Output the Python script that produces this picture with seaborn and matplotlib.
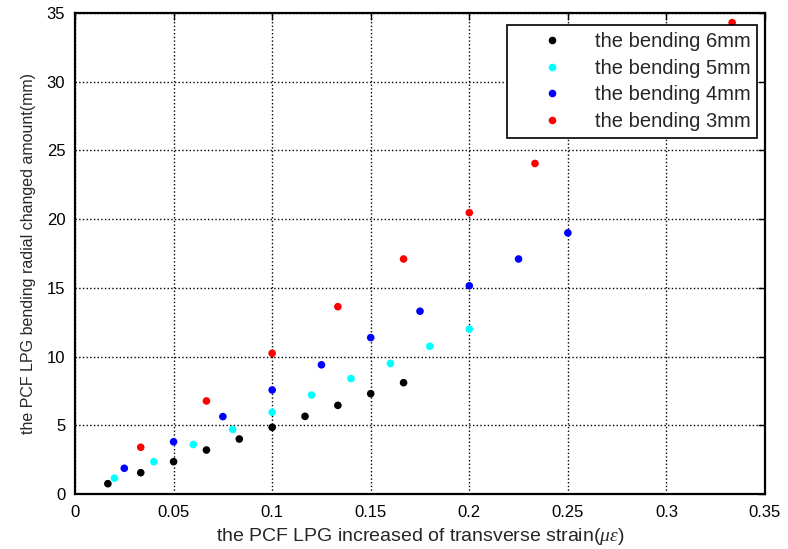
import numpy as np
import pandas as pd
import matplotlib
matplotlib.use('Agg')
import matplotlib.pyplot as plt
import seaborn as sns

# --- data ---
x_6mm = [1/60, 2/60, 3/60, 4/60, 5/60, 6/60, 7/60, 8/60, 9/60, 10/60]
y_6mm = [0.75, 1.55, 2.35, 3.2, 4.0, 4.85, 5.65, 6.45, 7.3, 8.1]

x_5mm = [0.02, 0.04, 0.06, 0.08, 0.10, 0.12, 0.14, 0.16, 0.18, 0.20]
y_5mm = [1.15, 2.35, 3.6, 4.7, 5.95, 7.2, 8.4, 9.5, 10.75, 12.0]

x_4mm = [0.025, 0.05, 0.075, 0.10, 0.125, 0.15, 0.175, 0.20, 0.225, 0.25]
y_4mm = [1.87, 3.8, 5.63, 7.57, 9.4, 11.38, 13.3, 15.15, 17.1, 19.0]

x_3mm = [1/30, 2/30, 3/30, 4/30, 5/30, 6/30, 7/30, 8/30, 9/30, 10/30]
y_3mm = [3.4, 6.77, 10.24, 13.63, 17.1, 20.47, 24.05, 27.4, 30.9, 34.3]

labels = ['the bending 6mm', 'the bending 5mm', 'the bending 4mm', 'the bending 3mm']
colors = ['#000000', '#00ffff', '#0000ff', '#ff0000']

x_ticks = [0, 0.05, 0.1, 0.15, 0.2, 0.25, 0.3, 0.35]
x_tick_labels = ['0', '0.05', '0.1', '0.15', '0.2', '0.25', '0.3', '0.35']
y_ticks = [0, 5, 10, 15, 20, 25, 30, 35]

df = pd.concat([
    pd.DataFrame({'x': x_6mm, 'y': y_6mm, 'series': labels[0]}),
    pd.DataFrame({'x': x_5mm, 'y': y_5mm, 'series': labels[1]}),
    pd.DataFrame({'x': x_4mm, 'y': y_4mm, 'series': labels[2]}),
    pd.DataFrame({'x': x_3mm, 'y': y_3mm, 'series': labels[3]}),
], ignore_index=True)

sns.set_style("white")
plt.rcParams['font.family'] = ['Liberation Sans', 'DejaVu Sans']
plt.rcParams['mathtext.fontset'] = 'custom'
plt.rcParams['mathtext.it'] = 'Liberation Serif:italic'

fig = plt.figure(figsize=(7.88, 5.49), dpi=100)
ax = fig.add_axes([0.0952, 0.1002, 0.8756, 0.8761])

sns.scatterplot(data=df, x='x', y='y', hue='series', hue_order=labels,
                palette=dict(zip(labels, colors)), s=30, linewidth=0,
                ax=ax, zorder=3)

ax.set_xlim(0, 0.35)
ax.set_ylim(0, 35)
ax.set_xticks(x_ticks)
ax.set_xticklabels(x_tick_labels)
ax.set_yticks(y_ticks)
ax.grid(True, color='black', linestyle=':', linewidth=1.0)
ax.tick_params(direction='in', top=True, right=True, length=5, width=1,
               labelsize=12, colors='black')
ax.tick_params(axis='x', pad=8)
ax.tick_params(axis='y', pad=7)
for sp in ax.spines.values():
    sp.set_color('black')
    sp.set_linewidth(1.6)

ax.set_xlabel(r'the PCF LPG increased of transverse strain($\mu\varepsilon$)',
              fontsize=14, labelpad=4)
ax.set_ylabel('the PCF LPG bending radial changed amount(mm)', fontsize=11.5,
              labelpad=8)

leg = ax.legend(loc='upper right', bbox_to_anchor=(0.989, 0.975),
                borderaxespad=0, fontsize=14.5, frameon=True, fancybox=False,
                edgecolor='black', framealpha=1, borderpad=0.35,
                handlelength=3.8, handletextpad=0.2, labelspacing=0.38,
                markerscale=1.0)
leg.get_frame().set_linewidth(1.2)
leg.set_zorder(10)

fig.savefig('out.png', dpi=100)
